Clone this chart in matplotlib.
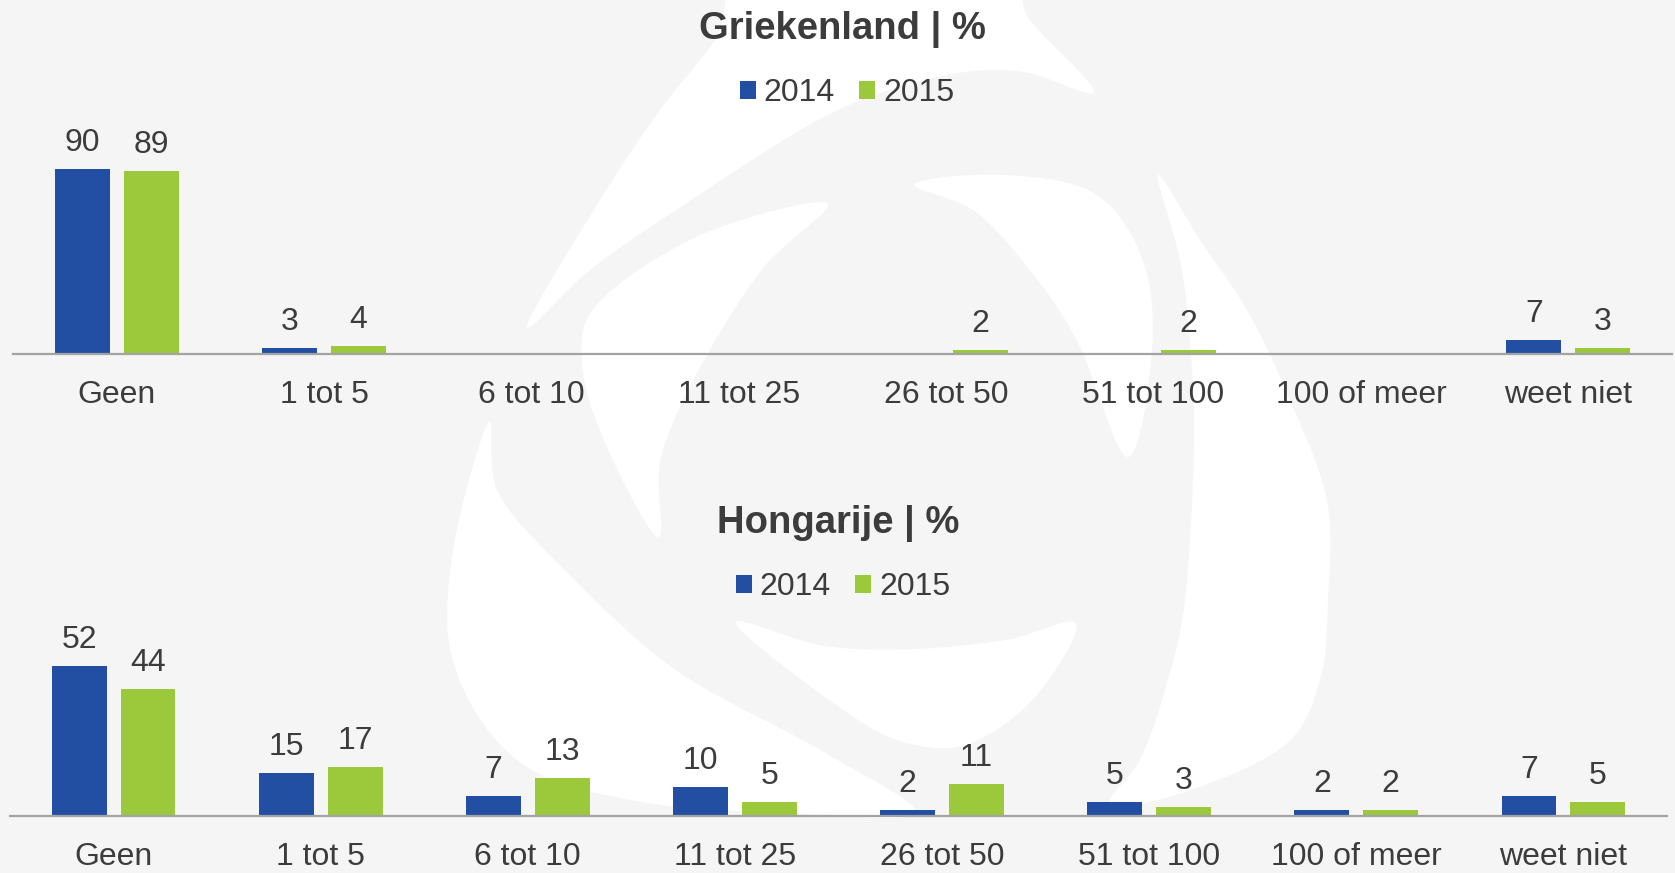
import numpy as np
import matplotlib.pyplot as plt
from matplotlib.patches import Polygon

plt.rcParams['font.family'] = ['Liberation Sans', 'DejaVu Sans']

categories = ['Geen', '1 tot 5', '6 tot 10', '11 tot 25', '26 tot 50',
              '51 tot 100', '100 of meer', 'weet niet']
years = ['2014', '2015']

griek_2014 = [90, 3, None, None, None, None, None, 7]
griek_2015 = [89, 4, None, None, 2, 2, None, 3]

hong_2014 = [52, 15, 7, 10, 2, 5, 2, 7]
hong_2015 = [44, 17, 13, 5, 11, 3, 2, 5]

BLUE = '#234fa2'
GREEN = '#9bc93b'
TEXT = '#3c3c3c'
BG = '#f5f5f5'

W, H = 1675, 873
fig = plt.figure(figsize=(W / 100, H / 100), dpi=100, facecolor=BG)

# faint logo watermark behind the charts (pixel outlines, top-left origin)
logo = [
    [(527, 326), (600, 200), (660, 110), (715, 40), (760, -40), (990, -40),
     (1030, 20), (1094, 92), (1018, 71), (933, 78), (824, 117), (673, 212), (590, 270)],
    [(1158, 175), (1200, 240), (1248, 312), (1290, 400), (1327, 501), (1328, 600),
     (1320, 680), (1285, 745), (1188, 791), (1110, 805), (1140, 760), (1165, 690),
     (1185, 600), (1194, 445), (1190, 340), (1180, 260)],
    [(915, 184), (1006, 175), (1097, 195), (1145, 267), (1151, 362), (1127, 457),
     (1079, 345), (1036, 278), (976, 212)],
    [(827, 203), (703, 234), (600, 301), (582, 362), (606, 445), (658, 537),
     (661, 457), (703, 362), (764, 267)],
    [(736, 624), (824, 646), (915, 649), (1006, 640), (1076, 624), (1036, 696),
     (976, 741), (921, 746), (855, 718)],
    [(488, 423), (452, 557), (455, 668), (521, 763), (642, 802), (794, 813),
     (915, 813), (824, 752), (673, 668), (552, 557), (497, 490)],
]


def smooth(pts, n=20):
    p = np.array(pts, float)
    out = []
    k = len(p)
    for i in range(k):
        p0, p1, p2, p3 = p[i - 1], p[i], p[(i + 1) % k], p[(i + 2) % k]
        t = np.linspace(0, 1, n, endpoint=False)[:, None]
        out.append(0.5 * ((2 * p1) + (-p0 + p2) * t + (2 * p0 - 5 * p1 + 4 * p2 - p3) * t ** 2
                          + (-p0 + 3 * p1 - 3 * p2 + p3) * t ** 3))
    return np.vstack(out)


bg = fig.add_axes([0, 0, 1, 1])
bg.set_xlim(0, W)
bg.set_ylim(H, 0)
bg.axis('off')
for shape in logo:
    bg.add_patch(Polygon(smooth(shape), closed=True, facecolor='white', edgecolor='none'))


def px_axes(x0, x1, y_base, y_top):
    # pixel box (origin top-left) -> figure fraction
    return fig.add_axes([x0 / W, 1 - y_base / H, (x1 - x0) / W, (y_base - y_top) / H])


def draw(ax, v14, v15, ymax):
    ax.set_facecolor('none')
    xs = range(len(categories))
    w = 0.265
    off = 0.1664
    b1 = ax.bar([x - off for x in xs], [v or 0 for v in v14], w, color=BLUE, label=years[0])
    b2 = ax.bar([x + off for x in xs], [v or 0 for v in v15], w, color=GREEN, label=years[1])
    for bars, vals in ((b1, v14), (b2, v15)):
        for r, v in zip(bars, vals):
            if v is None:
                continue
            ax.annotate(str(v), (r.get_x() + r.get_width() / 2, r.get_height()),
                        xytext=(0, 13), textcoords='offset points',
                        ha='center', va='baseline', fontsize=23, color=TEXT,
                        annotation_clip=False)
    ax.set_xlim(-0.5, len(categories) - 0.5)
    ax.set_ylim(0, ymax)
    ax.set_xticks(list(xs))
    ax.set_xticklabels(categories, fontsize=23, color=TEXT)
    ax.tick_params(axis='x', length=0, pad=19)
    ax.set_yticks([])
    for s in ('top', 'right', 'left'):
        ax.spines[s].set_visible(False)
    ax.spines['bottom'].set_color('#a3a3a3')
    ax.spines['bottom'].set_linewidth(1.6)
    return b1, b2


ax1 = px_axes(13, 1672, 354, 130)
h1 = draw(ax1, griek_2014, griek_2015, 224 / 2.055)

ax2 = px_axes(10, 1667, 816, 590)
h2 = draw(ax2, hong_2014, hong_2015, 226 / 2.886)

fig.text(842 / W, 1 - 39 / H, 'Griekenland | %', ha='center', va='baseline',
         fontsize=27.5, fontweight='bold', color=TEXT)
fig.text(838 / W, 1 - 533 / H, 'Hongarije | %', ha='center', va='baseline',
         fontsize=27.5, fontweight='bold', color=TEXT)

for hs, cx, cy in ((h1, 847, 93), (h2, 843, 587)):
    fig.legend(hs, years, loc='center', bbox_to_anchor=(cx / W, 1 - cy / H),
               ncol=2, frameon=False, fontsize=23, labelcolor=TEXT,
               handlelength=0.5, handleheight=0.5, handletextpad=0.25,
               columnspacing=0.75, borderpad=0, borderaxespad=0)

fig.savefig('out.png', dpi=100, facecolor=BG)
